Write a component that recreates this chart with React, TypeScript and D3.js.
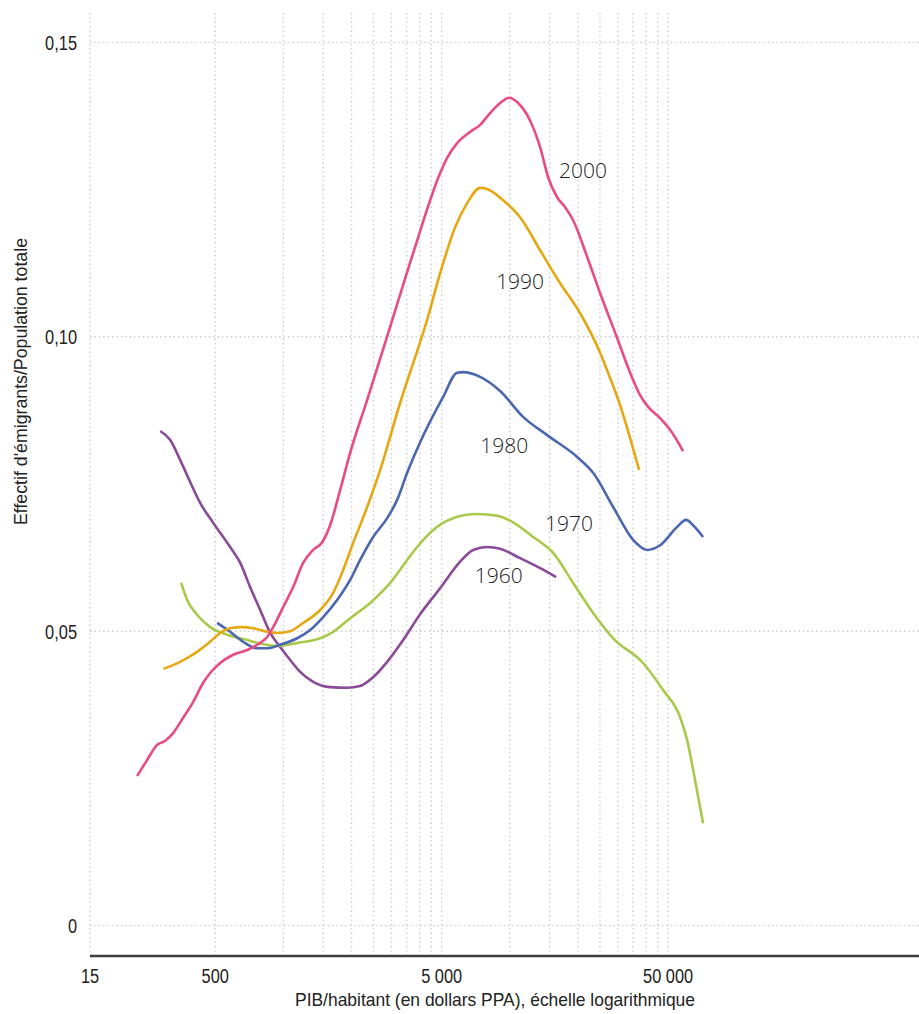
import { useEffect, useRef } from 'react'
import * as d3 from 'd3'

// PIB/habitant (dollars PPA) et part des émigrants
const gdp2000 = [226, 250, 277, 301, 326, 361, 400, 442, 475, 526, 600, 692, 766, 848, 902, 998, 1105, 1223, 1354, 1484, 1609, 1782, 1972, 2345, 2962, 3742, 4924, 5287, 5854, 6680, 7395, 8186, 9062, 9931, 10885, 12294, 13609, 14764, 16180, 17550, 19035, 21945, 25048, 29780, 33975, 37611, 40800, 46092, 51024, 58240]
const share2000 = [0.0254, 0.0281, 0.0307, 0.0314, 0.0327, 0.0353, 0.038, 0.0412, 0.0429, 0.0446, 0.046, 0.0468, 0.0477, 0.049, 0.0507, 0.0541, 0.0575, 0.0616, 0.0638, 0.0651, 0.068, 0.074, 0.0803, 0.0893, 0.1017, 0.1142, 0.1278, 0.1304, 0.1329, 0.1348, 0.136, 0.138, 0.1397, 0.1406, 0.1397, 0.1367, 0.1322, 0.1271, 0.1237, 0.122, 0.1198, 0.1136, 0.1074, 0.0998, 0.0939, 0.0901, 0.0881, 0.0862, 0.0842, 0.0806]

const gdp1990 = [295, 350, 416, 475, 526, 582, 658, 736, 848, 939, 1072, 1223, 1454, 1660, 1837, 2034, 2345, 2676, 3279, 4315, 4924, 5735, 6481, 7395, 7940, 9341, 11105, 13609, 16678, 20439, 25048, 27728, 30690, 33975, 37236]
const share1990 = [0.0436, 0.0448, 0.0465, 0.0482, 0.0497, 0.0505, 0.0507, 0.0505, 0.0499, 0.0497, 0.05, 0.0514, 0.0536, 0.0565, 0.0604, 0.065, 0.0711, 0.0774, 0.0888, 0.1029, 0.1108, 0.1186, 0.1227, 0.1253, 0.1251, 0.1232, 0.1203, 0.1147, 0.1091, 0.104, 0.0973, 0.093, 0.0884, 0.0828, 0.0774]

const gdp1980 = [510, 582, 665, 766, 848, 968, 1151, 1313, 1499, 1728, 1972, 2183, 2492, 2873, 3181, 3521, 4018, 5077, 5854, 6220, 7395, 9062, 11447, 14613, 19830, 23330, 28596, 35027, 40394, 46092, 54790, 60060, 64450, 71360]
const share1980 = [0.0514, 0.0499, 0.0482, 0.0471, 0.0471, 0.0477, 0.0488, 0.0502, 0.0524, 0.0553, 0.0587, 0.0621, 0.066, 0.0692, 0.0723, 0.0769, 0.0821, 0.0898, 0.0939, 0.094, 0.0932, 0.0908, 0.0864, 0.0833, 0.0796, 0.0769, 0.0711, 0.0655, 0.0638, 0.0646, 0.0677, 0.0689, 0.068, 0.066]

const gdp1970 = [354, 376, 416, 475, 565, 692, 815, 939, 1151, 1454, 1660, 1972, 2417, 2962, 3521, 3898, 4587, 5619, 7173, 8790, 10344, 12677, 15537, 19035, 23330, 28596, 38770, 47520, 56485, 60670, 65780, 71360]
const share1970 = [0.0582, 0.0553, 0.0528, 0.0507, 0.0494, 0.0485, 0.0478, 0.0475, 0.048, 0.0488, 0.0499, 0.0522, 0.0548, 0.0582, 0.0621, 0.0643, 0.0672, 0.0692, 0.0699, 0.0696, 0.0685, 0.066, 0.0633, 0.0582, 0.0531, 0.0488, 0.0446, 0.04, 0.0354, 0.0315, 0.0247, 0.0174]

const gdp1960 = [286, 316, 350, 388, 429, 490, 582, 645, 713, 790, 875, 968, 1072, 1186, 1354, 1609, 1914, 2183, 2492, 2873, 3381, 4018, 4924, 6034, 6889, 7940, 9062, 11105, 13609, 16017]
const share1960 = [0.084, 0.0825, 0.0791, 0.0753, 0.0718, 0.0684, 0.0643, 0.0616, 0.0575, 0.0536, 0.0497, 0.0473, 0.0451, 0.0431, 0.0414, 0.0405, 0.0404, 0.0407, 0.0422, 0.0448, 0.0485, 0.0529, 0.0573, 0.0618, 0.0638, 0.0643, 0.064, 0.0624, 0.0607, 0.0592]

const seriesNames = ['2000', '1990', '1980', '1970', '1960']
const seriesColors = ['#e94b84', '#e5a813', '#4b67b0', '#a9c94b', '#8a4a98']
// position de l'étiquette (PIB, part) à côté de chaque courbe
const labelGdp = [16500, 8700, 7400, 14300, 7000]
const labelShare = [0.127, 0.1081, 0.0803, 0.0671, 0.0582]

const xTickValues = [140, 500, 5000, 50000]
const xTickLabels = ['15', '500', '5 000', '50 000']
const xGridValues = [500, 1000, 1500, 2000, 2500, 3000, 3500, 4000, 4500, 5000, 10000, 15000, 20000, 25000, 30000, 35000, 40000, 45000, 50000]
const yTickValues = [0, 0.05, 0.1, 0.15]
const yTickLabels = ['0', '0,05', '0,10', '0,15']

const sans = "'Liberation Sans', Arial, sans-serif"
const squeeze = 0.78

export default function App() {
  const svgRef = useRef<SVGSVGElement>(null)

  useEffect(() => {
    if (!svgRef.current) return
    const svg = d3.select(svgRef.current)
    svg.selectAll('*').remove()

    const width = 919
    const height = 1014

    const x = d3.scaleLog().domain([140, 641000]).range([90, 919])
    const y = d3.scaleLinear().domain([0, 0.15]).range([925.6, 42.4])
    const axisY = 956

    const grid = svg.append('g')
    // vertical dotted grid
    grid.selectAll('line.vx')
      .data([140, ...xGridValues])
      .join('line')
      .attr('x1', d => x(d))
      .attr('x2', d => x(d))
      .attr('y1', 13)
      .attr('y2', axisY)
      .attr('stroke', '#c9c9c9')
      .attr('stroke-width', 1.4)
      .attr('stroke-dasharray', '1.4,3')

    grid.selectAll('line.hy')
      .data(yTickValues)
      .join('line')
      .attr('x1', x.range()[0])
      .attr('x2', width)
      .attr('y1', d => y(d))
      .attr('y2', d => y(d))
      .attr('stroke', '#c9c9c9')
      .attr('stroke-width', 1.4)
      .attr('stroke-dasharray', '1.4,3')

    // bottom axis line
    svg.append('line')
      .attr('x1', x.range()[0])
      .attr('x2', width)
      .attr('y1', axisY)
      .attr('y2', axisY)
      .attr('stroke', '#3d3d3d')
      .attr('stroke-width', 2.5)

    // condensed look: squeeze the glyphs horizontally around their anchor
    svg.append('g')
      .selectAll('text')
      .data(xTickValues)
      .join('text')
      .attr('transform', d => `translate(${x(d)},983) scale(${squeeze},1)`)
      .attr('text-anchor', 'middle')
      .style('font-family', sans)
      .style('font-size', '21px')
      .attr('fill', '#222')
      .text((_d, i) => xTickLabels[i])

    svg.append('g')
      .selectAll('text')
      .data(yTickValues)
      .join('text')
      .attr('transform', d => `translate(77,${y(d)}) scale(${squeeze},1)`)
      .attr('dy', '0.36em')
      .attr('text-anchor', 'end')
      .style('font-family', sans)
      .style('font-size', '21px')
      .attr('fill', '#222')
      .text((_d, i) => yTickLabels[i])

    svg.append('text')
      .attr('x', 295)
      .attr('y', 1006)
      .attr('textLength', 400)
      .attr('lengthAdjust', 'spacingAndGlyphs')
      .style('font-family', sans)
      .style('font-size', '19px')
      .attr('fill', '#222')
      .text('PIB/habitant (en dollars PPA), échelle logarithmique')

    svg.append('text')
      .attr('transform', 'translate(27,525) rotate(-90)')
      .attr('textLength', 287)
      .attr('lengthAdjust', 'spacingAndGlyphs')
      .style('font-family', sans)
      .style('font-size', '19px')
      .attr('fill', '#222')
      .text("Effectif d'émigrants/Population totale")

    const gdps = [gdp2000, gdp1990, gdp1980, gdp1970, gdp1960]
    const shares = [share2000, share1990, share1980, share1970, share1960]

    const line = d3.line<[number, number]>()
      .x(d => x(d[0]))
      .y(d => y(d[1]))
      .curve(d3.curveMonotoneX)

    // draw oldest first so 2000 sits on top
    for (let s = seriesNames.length - 1; s >= 0; s--) {
      const pts = gdps[s].map((g, i) => [g, shares[s][i]] as [number, number])
      svg.append('path')
        .datum(pts)
        .attr('fill', 'none')
        .attr('stroke', seriesColors[s])
        .attr('stroke-width', 2.6)
        .attr('stroke-linejoin', 'round')
        .attr('d', line)
    }

    svg.append('g')
      .selectAll('text')
      .data(seriesNames)
      .join('text')
      .attr('x', (_d, i) => x(labelGdp[i]))
      .attr('y', (_d, i) => y(labelShare[i]))
      .style('font-family', "'Open Sans', sans-serif")
      .style('font-weight', 300)
      .style('font-size', '21px')
      .attr('fill', '#222')
      .text(d => d)

    svg.attr('width', width).attr('height', height)
  }, [])

  return (
    <svg
      ref={svgRef}
      width={919}
      height={1014}
      style={{ position: 'absolute', left: 0, top: 0, background: '#fff' }}
    />
  )
}
